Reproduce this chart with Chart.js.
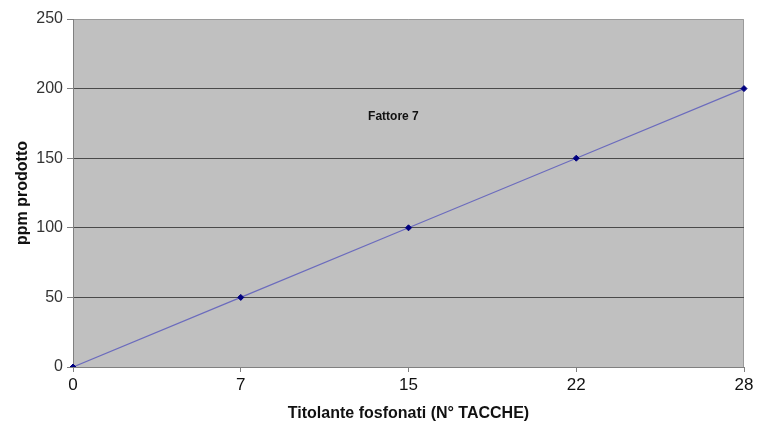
<!DOCTYPE html>
<html>
<head>
<meta charset="utf-8">
<script src="https://cdn.jsdelivr.net/npm/chart.js@4.4.0/dist/chart.umd.min.js"></script>
<style>
  html, body { margin: 0; padding: 0; background: #fff; }
  #wrap { width: 758px; height: 425px; }
</style>
</head>
<body>
<div id="wrap"><canvas id="fattoreChart"></canvas></div>
<script>
// dati
const tacche = ['0', '7', '15', '22', '28'];
const ppmProdotto = [0, 50, 100, 150, 200];
const yTicks = [0, 50, 100, 150, 200, 250];
const noteLabel = 'Fattore 7';
const notePos = { x: 1.91, y: 180 };

// sfondo grigio dell'area del grafico + nota
const plotBg = {
    id: 'plotBg',
    beforeDraw(chart) {
        const { ctx, chartArea: a } = chart;
        ctx.save();
        ctx.fillStyle = '#c0c0c0';
        ctx.fillRect(a.left, a.top, a.right - a.left, a.bottom - a.top);
        ctx.strokeStyle = '#9a9a9a';
        ctx.lineWidth = 1;
        ctx.beginPath();
        ctx.moveTo(a.left, a.top + 0.5);
        ctx.lineTo(a.right - 0.5, a.top + 0.5);
        ctx.lineTo(a.right - 0.5, a.bottom);
        ctx.stroke();
        ctx.restore();
    },
    afterDatasetsDraw(chart) {
        const { ctx, scales } = chart;
        ctx.save();
        ctx.font = 'bold 12px "Liberation Sans", Arial, sans-serif';
        ctx.fillStyle = '#111';
        ctx.textAlign = 'center';
        ctx.textBaseline = 'middle';
        ctx.fillText(noteLabel, scales.x.getPixelForValue(notePos.x), scales.y.getPixelForValue(notePos.y));
        ctx.restore();
    }
};

const ctx = document.getElementById('fattoreChart');
new Chart(ctx, {
    type: 'line',
    data: {
        labels: tacche,
        datasets: [{
            data: ppmProdotto,
            borderColor: '#6b6bbd',
            borderWidth: 1.2,
            pointStyle: 'rectRot',
            pointRadius: 3,
            pointBackgroundColor: '#000080',
            pointBorderColor: '#000080',
            pointBorderWidth: 1,
            tension: 0,
            fill: false
        }]
    },
    options: {
        responsive: true,
        maintainAspectRatio: false,
        animation: false,
        layout: { padding: { top: 19, right: 14, left: 0, bottom: 0 } },
        plugins: {
            legend: { display: false },
            tooltip: { enabled: false }
        },
        scales: {
            x: {
                type: 'category',
                offset: false,
                grid: {
                    drawOnChartArea: false,
                    drawTicks: true,
                    tickLength: 5,
                    color: '#808080'
                },
                border: { color: '#808080', width: 1 },
                ticks: {
                    color: '#111',
                    padding: 3,
                    maxRotation: 0,
                    font: { family: '"Liberation Sans", Arial, sans-serif', size: 17 }
                },
                title: {
                    display: true,
                    text: 'Titolante fosfonati (N° TACCHE)',
                    color: '#111',
                    padding: { top: 0, bottom: 2 },
                    font: { family: '"Liberation Sans", Arial, sans-serif', size: 16, weight: 'bold' }
                },
                afterFit: scale => { scale.height = 58; }
            },
            y: {
                min: 0,
                max: 250,
                afterBuildTicks: scale => { scale.ticks = yTicks.map(v => ({ value: v })); },
                grid: {
                    color: c => c.tick && c.tick.value === 250 ? 'rgba(0,0,0,0)' : '#4a4a4a',
                    lineWidth: 1,
                    tickLength: 6,
                    tickColor: '#808080'
                },
                border: { color: '#808080', width: 1 },
                ticks: {
                    color: '#333',
                    padding: 4,
                    font: { family: '"Liberation Sans", Arial, sans-serif', size: 16 }
                },
                title: {
                    display: true,
                    text: 'ppm prodotto',
                    color: '#111',
                    padding: { top: 13, bottom: 0 },
                    font: { family: '"Liberation Sans", Arial, sans-serif', size: 16, weight: 'bold' }
                },
                afterFit: scale => { scale.width = 73; }
            }
        }
    },
    plugins: [plotBg]
});
</script>
</body>
</html>
